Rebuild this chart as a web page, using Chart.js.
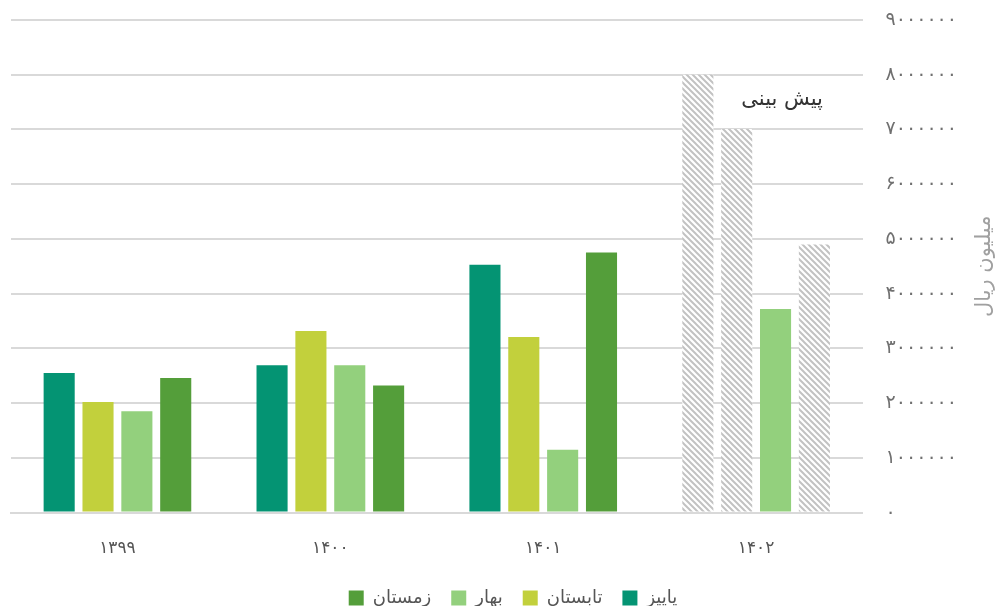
<!DOCTYPE html>
<html lang="fa">
<head>
<meta charset="utf-8">
<title>میلیون ریال</title>
<script src="https://cdn.jsdelivr.net/npm/chart.js@4.4.1/dist/chart.umd.min.js"></script>
<style>
  html, body { margin: 0; padding: 0; background: #fff; }
  #wrap { width: 998px; height: 606px; position: relative; }
</style>
</head>
<body>
<div id="wrap"><canvas id="chart"></canvas></div>
<script>
// ── Data ───────────────────────────────────────────────────────
const YEARS   = ['۱۳۹۹', '۱۴۰۰', '۱۴۰۱', '۱۴۰۲'];
const SEASONS = ['پاییز', 'تابستان', 'بهار', 'زمستان'];

const autumn = [2550000, 2690000, 4530000, 8000000];
const summer = [2020000, 3320000, 3210000, 7010000];
const spring = [1850000, 2690000, 1150000, 3720000];
const winter = [2460000, 2320000, 4750000, 4900000];

// true = forecast (hatched)
const autumnForecast = [false, false, false, true];
const summerForecast = [false, false, false, true];
const springForecast = [false, false, false, false];
const winterForecast = [false, false, false, true];

const Y_TICKS      = [0, 1000000, 2000000, 3000000, 4000000, 5000000, 6000000, 7000000, 8000000, 9000000];
const AXIS_TITLE   = 'میلیون ریال';
const FORECAST_TXT = 'پیش بینی';

const FONT = "'DejaVu Sans', sans-serif";

// ── Helpers ────────────────────────────────────────────────────
const faDigits = s => String(s).replace(/[0-9]/g, d => '۰۱۲۳۴۵۶۷۸۹'[d]);

function hatch() {
  const c = document.createElement('canvas');
  c.width = 6; c.height = 6;
  const g = c.getContext('2d');
  g.fillStyle = '#ffffff';
  g.fillRect(0, 0, 6, 6);
  g.strokeStyle = '#c2c2c2';
  g.lineWidth = 2;
  g.beginPath();
  g.moveTo(-3, -3); g.lineTo(9, 9);
  g.moveTo(-3, 3);  g.lineTo(3, 9);
  g.moveTo(3, -3);  g.lineTo(9, 3);
  g.stroke();
  return g.createPattern(c, 'repeat');
}
const HATCH = hatch();

const colorsFor = (color, flags) => flags.map(f => f ? HATCH : color);

function series(label, data, color, flags) {
  return {
    label,
    data,
    backgroundColor: colorsFor(color, flags),
    borderWidth: 0,
    barPercentage: 0.8,
    categoryPercentage: 0.73,
  };
}

// ── Extra labels: axis title + forecast note ───────────────────
const extras = {
  id: 'extras',
  afterLayout(chart) {
    // legend sits a bit right of centre and lower in the original
    const lg = chart.legend;
    if (lg) { lg.left += 22; lg.right += 22; lg.top += 11; lg.bottom += 11; }
  },
  afterDraw(chart) {
    const { ctx, chartArea } = chart;
    ctx.save();
    // axis title, rotated counter-clockwise
    ctx.fillStyle = '#a0a0a0';
    ctx.font = `21px ${FONT}`;
    ctx.textAlign = 'center';
    ctx.textBaseline = 'middle';
    ctx.translate(985, (chartArea.top + chartArea.bottom) / 2);
    ctx.rotate(-Math.PI / 2);
    ctx.fillText(AXIS_TITLE, 0, 0);
    ctx.restore();

    ctx.save();
    const x = chart.scales.x.getPixelForValue(3);
    ctx.fillStyle = '#333333';
    ctx.font = `21px ${FONT}`;
    ctx.textAlign = 'center';
    ctx.textBaseline = 'middle';
    ctx.fillText(FORECAST_TXT, x + 26, chart.scales.y.getPixelForValue(7550000));
    ctx.restore();
  }
};

// ── Chart ──────────────────────────────────────────────────────
new Chart(document.getElementById('chart'), {
  type: 'bar',
  data: {
    labels: YEARS,
    datasets: [
      series(SEASONS[0], autumn, '#049473', autumnForecast),
      series(SEASONS[1], summer, '#c2d03c', summerForecast),
      series(SEASONS[2], spring, '#93d07d', springForecast),
      series(SEASONS[3], winter, '#549e3a', winterForecast),
    ],
  },
  options: {
    responsive: true,
    maintainAspectRatio: false,
    animation: false,
    layout: { padding: { left: 11, right: 18, top: 0, bottom: 0 } },
    plugins: {
      legend: {
        position: 'bottom',
        reverse: true,
        labels: {
          font: { family: FONT, size: 18 },
          color: '#555555',
          boxWidth: 15,
          boxHeight: 15,
          padding: 11,
          // wider gap between items than the row padding allows
          generateLabels(chart) {
            const items = Chart.defaults.plugins.legend.labels.generateLabels(chart);
            items.forEach(it => { it.text = it.text + '\u2002'; });
            return items;
          },
        },
      },
      tooltip: { enabled: false },
    },
    scales: {
      x: {
        grid: { display: false, drawTicks: false },
        border: { color: '#d9d9d9', width: 2 },
        ticks: { font: { family: FONT, size: 17 }, color: '#555555', padding: 26 },
        afterFit: s => { s.height -= 18; },
      },
      y: {
        position: 'right',
        min: 0,
        max: 9000000,
        afterBuildTicks: axis => { axis.ticks = Y_TICKS.map(v => ({ value: v })); },
        afterFit: s => { s.paddingTop = 20; },
        grid: { color: '#d9d9d9', lineWidth: 2, drawTicks: false },
        border: { display: false },
        ticks: {
          font: { family: FONT, size: 19 },
          color: '#707070',
          padding: 23,
          callback: v => faDigits(v),
        },
      },
    },
  },
  plugins: [extras],
});
</script>
</body>
</html>
